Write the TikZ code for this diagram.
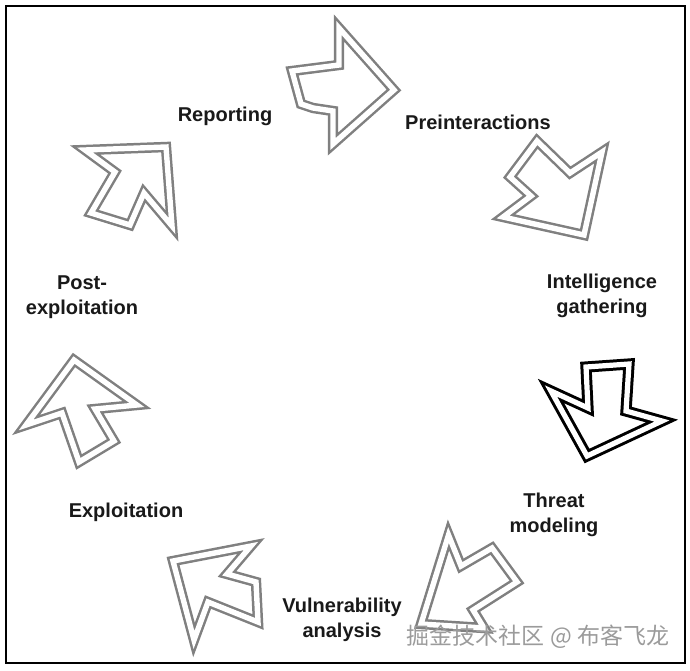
\documentclass[tikz,border=0pt]{standalone}
\usepackage{fontspec}
\setmainfont{Liberation Sans}
\newfontfamily\cjkfont{Noto Sans CJK SC}
\definecolor{arrowgray}{RGB}{128,128,128}
\definecolor{markgray}{RGB}{155,155,155}

\begin{document}
\begin{tikzpicture}[x=0.5pt,y=-0.5pt,
    cyclearrow/.style={draw=arrowgray,double=white,line width=1.25pt,double distance=2.7pt,line join=miter},
    currentarrow/.style={cyclearrow,draw=black,line width=1.5pt,double distance=2.6pt},
    phase/.style={font=\bfseries\fontsize{10}{12.2}\selectfont,align=center,text=black!90}]
    \useasboundingbox (0,0) rectangle (690,670);
    \draw[line width=0.7pt] (6,6) rectangle (685,663);

    % arrows, going round clockwise
    \draw[cyclearrow] (292,71) -- (339,65) -- (339,28) -- (394,90) -- (333,144) -- (333,111) -- (313,108) -- (301,104) -- cycle;
    \draw[cyclearrow] (537,141) -- (570,173) -- (602,152) -- (584,235) -- (503,217) -- (531,196) -- (510,177) -- cycle;
    \draw[currentarrow] (586,367) -- (629,364) -- (626,411) -- (662,421) -- (587,456) -- (551,391) -- (588,408) -- cycle;
    \draw[cyclearrow] (448.5,535) -- (461,566) -- (492,548) -- (517,582) -- (473,610) -- (484,628) -- (421,624) -- cycle;
    \draw[cyclearrow] (173,561) -- (251,546) -- (227,574) -- (256,582) -- (258,622) -- (208,602) -- (194,640) -- cycle;
    \draw[cyclearrow] (74,360) -- (137,405) -- (95,409) -- (114,441) -- (79,462) -- (62,413) -- (26,425) -- cycle;
    \draw[cyclearrow] (85,150) -- (166,147) -- (172,226) -- (144,193) -- (130,225) -- (91,213) -- (115,172) -- cycle;

    % phases
    \node[phase] (preint) at (478,122) {Preinteractions};
    \node[phase] (intel) at (602,296) {Intelligence\\gathering};
    \node[phase] (threat) at (554,515) {Threat\\modeling};
    \node[phase] (vuln) at (342,620) {Vulnerability\\analysis};
    \node[phase] (exploit) at (126,512) {Exploitation};
    \node[phase] (postexp) at (82,297) {Post-\\exploitation};
    \node[phase] (reporting) at (225,116) {Reporting};

    \node[text=markgray,font=\cjkfont\fontsize{11.5}{12}\selectfont] (mark) at (538,637) {掘金技术社区 @ 布客飞龙};
\end{tikzpicture}
\end{document}
